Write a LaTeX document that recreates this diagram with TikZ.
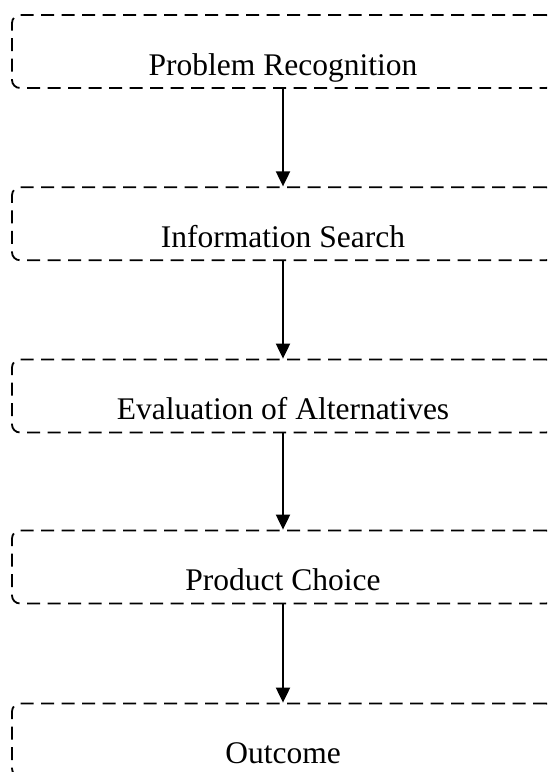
\documentclass[tikz,border=0pt]{standalone}
\usepackage{fontspec}
\setmainfont{Liberation Serif}
\usetikzlibrary{arrows.meta}
\tikzset{
  stagebox/.style={draw=black, line width=1.8pt, dash pattern=on 13pt off 7.5pt,
    rounded corners=8pt, minimum width=542pt, minimum height=73pt,
    inner xsep=0pt, inner ysep=0pt, text height=47pt, text depth=0pt,
    font=\fontsize{31.5}{36}\selectfont},
  flowarrow/.style={draw=black, line width=2pt, -{Triangle[width=14pt,length=15pt]}}
}
\begin{document}
\begin{tikzpicture}[x=1pt,y=1pt]
\useasboundingbox (0,0) rectangle (547,-772);
\clip (0,0) rectangle (547,-772);
\node[stagebox] (b1) at (283,-51.5) {Problem Recognition};
\node[stagebox] (b2) at (283,-223.75) {Information Search};
\node[stagebox] (b3) at (283,-396) {Evaluation of Alternatives};
\node[stagebox] (b4) at (283,-567) {Product Choice};
\node[stagebox] (b5) at (283,-740) {Outcome};
\draw[flowarrow] (b1.south) -- (b2.north);
\draw[flowarrow] (b2.south) -- (b3.north);
\draw[flowarrow] (b3.south) -- (b4.north);
\draw[flowarrow] (b4.south) -- (b5.north);
\end{tikzpicture}
\end{document}
